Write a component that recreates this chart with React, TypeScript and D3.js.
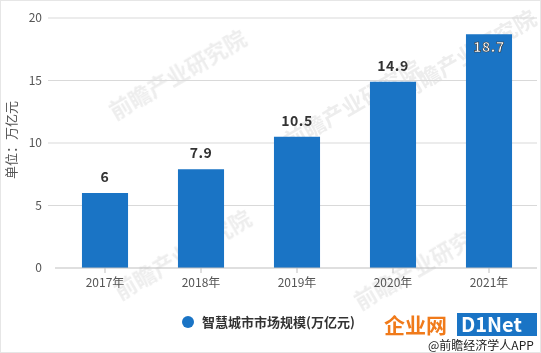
import React from "react";
import * as d3 from "d3";

const categories = ["2017年", "2018年", "2019年", "2020年", "2021年"];
const values = [6, 7.9, 10.5, 14.9, 18.7];
const yTicks = [0, 5, 10, 15, 20];
const seriesName = "智慧城市市场规模(万亿元)";
const yTitle = "单位：万亿元";

const W = 541;
const H = 353;
const margin = { left: 57, right: 4, top: 18, bottom: 85 };

export default function App() {
  const x = d3
    .scaleBand<string>()
    .domain(categories)
    .range([margin.left, W - margin.right])
    .paddingInner(0.52)
    .paddingOuter(0.26);
  const y = d3.scaleLinear().domain([0, 20]).range([H - margin.bottom, margin.top]);
  const font = "'Microsoft YaHei','Noto Sans CJK SC', 'DejaVu Sans', sans-serif";
  const barColor = "#1a74c5";
  const marks = [
    [115, 120],
    [290, 150],
    [405, 100],
    [120, 300],
    [360, 310],
  ];
  return (
    <div style={{ position: "fixed", left: 0, top: 0 }}>
      <svg width={W} height={H} style={{ display: "block", background: "#fff" }}>
        <rect x={0.5} y={0.5} width={W - 1} height={H - 1} fill="#fff" stroke="#e6e6e6" />
        {/* watermarks */}
        <g fill="#e2e2e2" opacity={0.6} fontFamily={font} fontWeight="bold">
          {marks.map(([mx, my], i) => (
            <text key={i} x={mx} y={my} fontSize={22} transform={`rotate(-30 ${mx} ${my})`}>
              前瞻产业研究院
            </text>
          ))}
        </g>
        {/* grid */}
        {yTicks.map((t) => (
          <g key={t}>
            {t > 0 && (
              <line x1={48} x2={W - 4} y1={y(t)} y2={y(t)} stroke="#d9d9d9" strokeWidth={1} />
            )}
            <text
              x={42}
              y={y(t)}
              dy="0.35em"
              textAnchor="end"
              fontSize={12}
              fill="#555"
              fontFamily={font}
            >
              {t}
            </text>
          </g>
        ))}
        <text
          transform={`translate(16,${140}) rotate(-90)`}
          textAnchor="middle"
          fontSize={13}
          fill="#555"
          fontFamily={font}
        >
          {yTitle}
        </text>
        {/* bars */}
        {values.map((v, i) => {
          const c = categories[i];
          const bx = x(c)!;
          const top = y(v);
          const inside = top < margin.top + 25;
          return (
            <g key={c}>
              <rect x={bx} y={top} width={x.bandwidth()} height={y(0) - top} fill={barColor} />
              <text
                x={bx + x.bandwidth() / 2}
                y={inside ? top + 18 : top - 11}
                textAnchor="middle"
                fontSize={14}
                fontWeight="bold"
                fill={inside ? "#fff" : "#333"}
                stroke={inside ? "#333" : "none"}
                strokeWidth={inside ? 0.6 : 0}
                fontFamily={font}
                letterSpacing={0.5}
              >
                {v}
              </text>
            </g>
          );
        })}
        {/* x axis */}
        <line x1={55} x2={W - 4} y1={y(0)} y2={y(0)} stroke="#bfbfbf" />
        {categories.map((c) => {
          const cx = x(c)! + x.bandwidth() / 2;
          return (
            <g key={c}>
              <line x1={cx} x2={cx} y1={y(0)} y2={y(0) + 5} stroke="#bfbfbf" />
              <text
                x={cx}
                y={y(0) + 15}
                dy="0.35em"
                textAnchor="middle"
                fontSize={12}
                fill="#555"
                fontFamily={font}
              >
                {c}
              </text>
            </g>
          );
        })}
        {/* legend */}
        <circle cx={188} cy={322} r={6} fill={barColor} />
        <text x={202} y={322} dy="0.35em" fontSize={13} fontWeight="bold" fill="#333" fontFamily={font}>
          {seriesName}
        </text>
        {/* corner logo */}
        <text x={384} y={333} fontSize={21} fontWeight="bold" fill="#f07a1a" fontFamily={font}>
          企业网
        </text>
        <rect x={457} y={313} width={80} height={23} fill="#1a74c5" />
        <text x={461} y={332} fontSize={20} fontWeight="bold" fill="#fff" fontFamily={font}>
          D1Net
        </text>
        <text x={428} y={350} fontSize={12} fill="#222" fontFamily={font}>
          @前瞻经济学人APP
        </text>
      </svg>
    </div>
  );
}
